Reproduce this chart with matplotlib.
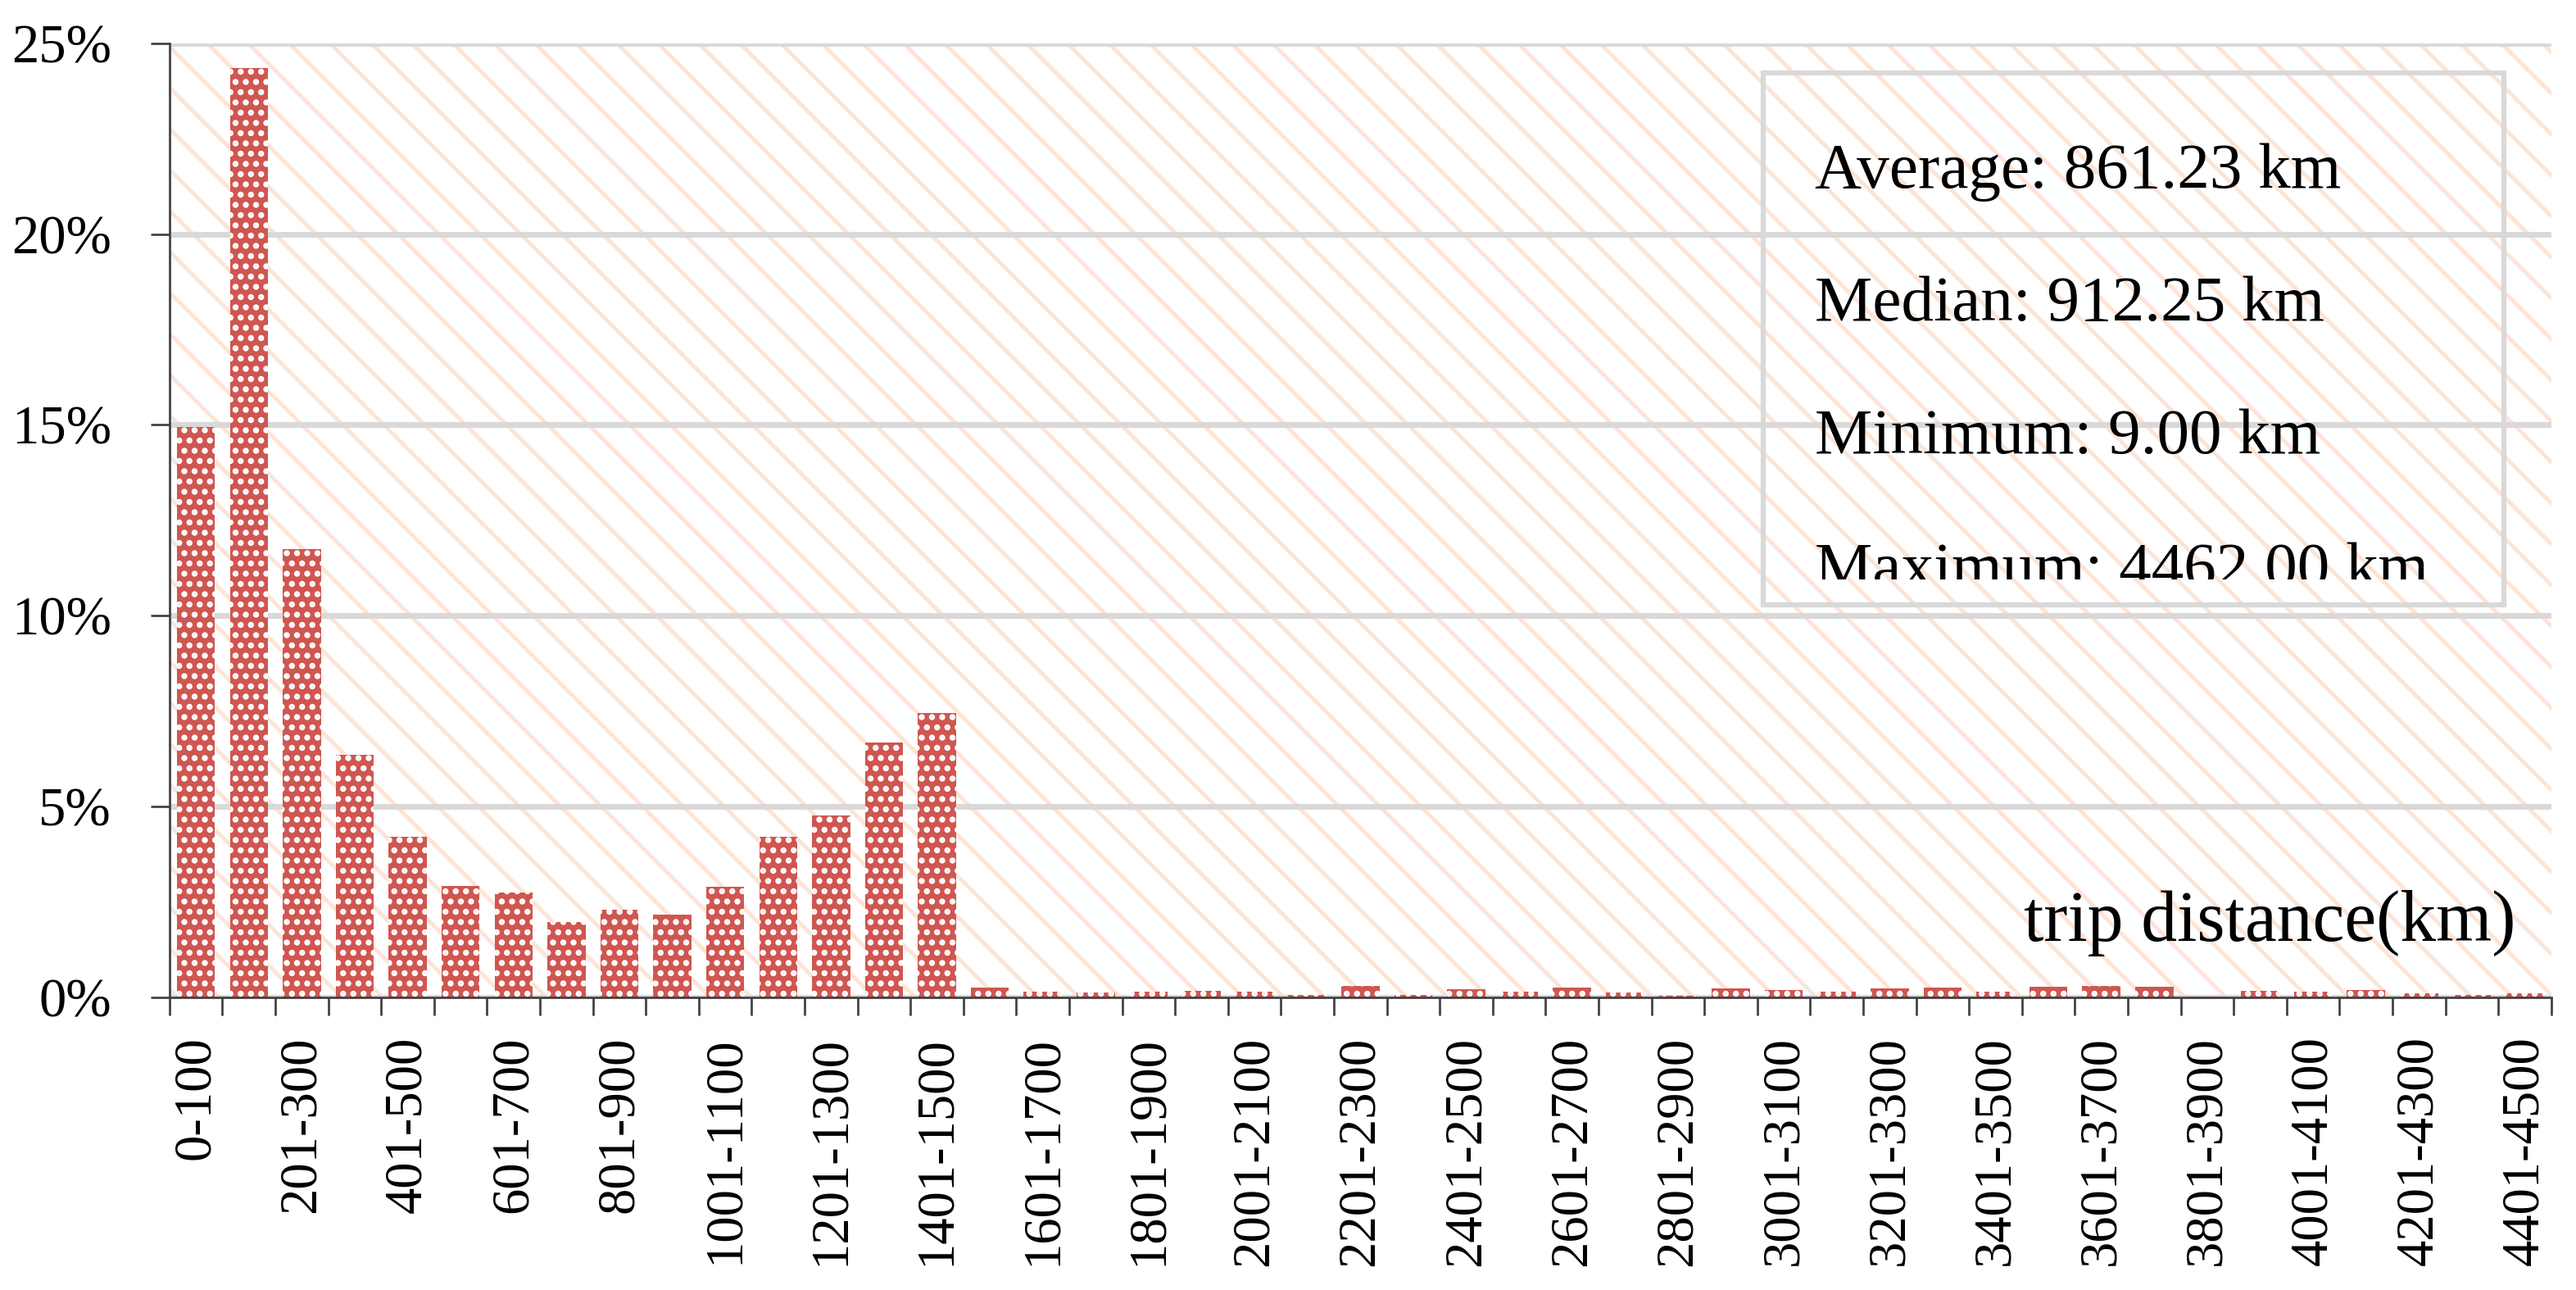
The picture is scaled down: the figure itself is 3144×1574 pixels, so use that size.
import matplotlib.pyplot as plt
import numpy as np
from matplotlib.patches import Rectangle
from matplotlib.transforms import Bbox, TransformedBbox

plt.rcParams['font.family'] = 'Liberation Serif'
plt.rcParams['hatch.linewidth'] = 2.3

# distance bins (km) and share of trips (%)
bins = ["0-100"] + [f"{i * 100 + 1}-{(i + 1) * 100}" for i in range(1, 45)]
share = [14.95, 24.35, 11.75, 6.34, 4.21, 2.92, 2.75, 1.96, 2.30, 2.15,
         2.90, 4.21, 4.75, 6.68, 7.45, 0.24, 0.15, 0.11, 0.13, 0.17,
         0.13, 0.05, 0.29, 0.05, 0.20, 0.14, 0.25, 0.12, 0.04, 0.23,
         0.19, 0.14, 0.23, 0.25, 0.14, 0.26, 0.30, 0.26, 0.01, 0.17,
         0.15, 0.19, 0.10, 0.05, 0.10]
yticks = [0, 5, 10, 15, 20, 25]

stats = ["Average: 861.23 km", "Median: 912.25 km",
         "Minimum: 9.00 km", "Maximum: 4462.00 km"]

fig = plt.figure(figsize=(3144 / 150, 1574 / 150), dpi=150)
ax = fig.add_axes([0.0658, 0.2271, 0.9246, 0.7392])

# light orange diagonal background
ax.patch.set_facecolor('white')
ax.patch.set_edgecolor('#FCE4D6')
ax.patch.set_hatch('\\')
ax.patch.set_linewidth(0)

x = np.arange(len(bins))
ax.bar(x, share, width=0.72, color='#CF5651', edgecolor='white',
       linewidth=0, hatch='..', zorder=2)

ax.set_xlim(-0.5, len(bins) - 0.5)
ax.set_ylim(0, 25)

ax.set_yticks(yticks, labels=[f"{v}%" for v in yticks])
ax.yaxis.grid(True, color='#D9D9D9', linewidth=3.4)
ax.set_axisbelow(True)

# labels under every other bar, ticks on bin edges
ax.set_xticks(x[::2], labels=bins[::2], rotation=90)
ax.set_xticks(np.arange(-0.5, len(bins), 1), minor=True)
ax.tick_params(axis='x', which='major', length=0, pad=23, labelsize=31)
ax.tick_params(axis='x', which='minor', length=10.5, width=1.3, color='#404040')
ax.tick_params(axis='y', length=11, width=1.3, color='#404040', pad=23, labelsize=32)

for s in ['top', 'right']:
    ax.spines[s].set_visible(False)
for s in ['left', 'bottom']:
    ax.spines[s].set_color('#404040')
    ax.spines[s].set_linewidth(1.3)

# stats box
ax.add_patch(Rectangle((0.669, 0.411), 0.311, 0.558, transform=ax.transAxes,
                       fill=False, edgecolor='#D9D9D9', linewidth=3, zorder=4))
clip = TransformedBbox(Bbox([[0, 0.4377], [1, 1]]), ax.transAxes)
for i, s in enumerate(stats):
    t = ax.text(0.6908, 0.849 - i * 0.1395, s, transform=ax.transAxes,
                fontsize=38, va='baseline', ha='left', zorder=5)
    t.set_clip_box(clip)
    t.set_clip_on(True)

ax.text(0.985, 0.0585, "trip distance(km)", transform=ax.transAxes,
        fontsize=42, ha='right', va='baseline', zorder=5)

fig.savefig('out.png', dpi=150)
